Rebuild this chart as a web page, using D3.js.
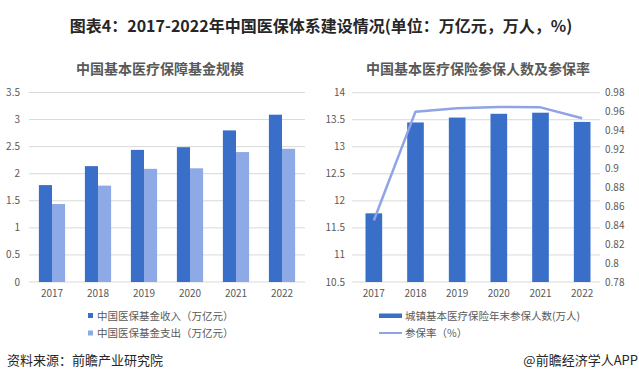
<!DOCTYPE html>
<html><head><meta charset="utf-8">
<script src="https://cdn.jsdelivr.net/npm/d3@7"></script>
<style>
body{margin:0;background:#fff;}
text{font-family:"Noto Sans CJK SC","Microsoft YaHei",sans-serif;}
</style></head>
<body><svg id="c" width="639" height="380"></svg>
<script>
const years = ["2017","2018","2019","2020","2021","2022"];
const fundIncome = [1.79, 2.14, 2.44, 2.49, 2.80, 3.09];
const fundExpense = [1.44, 1.78, 2.09, 2.10, 2.40, 2.46];
const insuredPeople = [11.77, 13.45, 13.54, 13.61, 13.63, 13.46];
const coverageRate = [0.845, 0.960, 0.9635, 0.965, 0.9645, 0.953];
const leftTicks = [0,0.5,1,1.5,2,2.5,3,3.5];
const rightLTicks = [10.5,11,11.5,12,12.5,13,13.5,14];
const rightRTicks = [0.78,0.8,0.82,0.84,0.86,0.88,0.9,0.92,0.94,0.96,0.98];

const svg = d3.select("#c");
const dark = "#3a6fc9", light = "#8eaae6", lineC = "#8fa3e6", grid = "#d9d9d9", txt = "#595959";

svg.append("text").attr("x",321).attr("y",32).attr("text-anchor","middle")
  .attr("font-size",16).attr("font-weight","bold").attr("fill","#262626")
  .text("图表4：2017-2022年中国医保体系建设情况(单位：万亿元，万人，%)");

// Left chart
const x0 = d3.scaleBand().domain(years).range([29,305]).paddingInner(0.43).paddingOuter(0.215);
const x1 = d3.scaleBand().domain(["inc","exp"]).range([0,x0.bandwidth()]);
const yL = d3.scaleLinear().domain([0,3.5]).range([282,92.5]);

svg.append("text").attr("x",160).attr("y",74).attr("text-anchor","middle")
  .attr("font-size",14).attr("font-weight","bold").attr("fill",txt).text("中国基本医疗保障基金规模");

const gL = svg.append("g");
gL.selectAll("line.g").data(leftTicks).join("line")
  .attr("x1",29).attr("x2",305).attr("y1",d=>yL(d)).attr("y2",d=>yL(d))
  .attr("stroke",grid).attr("stroke-width",1);
gL.selectAll("text.t").data(leftTicks).join("text")
  .attr("x",20).attr("y",d=>yL(d)+3.5).attr("text-anchor","end")
  .attr("font-size",10).attr("fill",txt).text(d=>d);
gL.selectAll("rect.inc").data(years).join("rect")
  .attr("x",d=>x0(d)+x1("inc")).attr("width",x1.bandwidth())
  .attr("y",(d,i)=>yL(fundIncome[i])).attr("height",(d,i)=>yL(0)-yL(fundIncome[i]))
  .attr("fill",dark);
gL.selectAll("rect.exp").data(years).join("rect")
  .attr("x",d=>x0(d)+x1("exp")).attr("width",x1.bandwidth())
  .attr("y",(d,i)=>yL(fundExpense[i])).attr("height",(d,i)=>yL(0)-yL(fundExpense[i]))
  .attr("fill",light);
gL.selectAll("text.y").data(years).join("text")
  .attr("x",d=>x0(d)+x0.bandwidth()/2).attr("y",297).attr("text-anchor","middle")
  .attr("font-size",10).attr("fill",txt).text(d=>d);

// left legend
svg.append("rect").attr("x",88).attr("y",313).attr("width",5).attr("height",5).attr("fill",dark);
svg.append("text").attr("x",97).attr("y",319.5).attr("font-size",10.5).attr("fill",txt).text("中国医保基金收入（万亿元）");
svg.append("rect").attr("x",88).attr("y",330.5).attr("width",5).attr("height",5).attr("fill",light);
svg.append("text").attr("x",97).attr("y",337).attr("font-size",10.5).attr("fill",txt).text("中国医保基金支出（万亿元）");

// Right chart
const xr = d3.scaleBand().domain(years).range([353,603]).paddingInner(0.6).paddingOuter(0.3);
const yR = d3.scaleLinear().domain([10.5,14]).range([282,92.7]);
const yR2 = d3.scaleLinear().domain([0.78,0.98]).range([282,92.7]);

svg.append("text").attr("x",478).attr("y",74).attr("text-anchor","middle")
  .attr("font-size",14).attr("font-weight","bold").attr("fill",txt).text("中国基本医疗保险参保人数及参保率");

const gR = svg.append("g");
gR.selectAll("line.g").data(rightLTicks).join("line")
  .attr("x1",352).attr("x2",600).attr("y1",d=>yR(d)).attr("y2",d=>yR(d))
  .attr("stroke",grid).attr("stroke-width",1);
gR.selectAll("text.tl").data(rightLTicks).join("text")
  .attr("x",345).attr("y",d=>yR(d)+3.5).attr("text-anchor","end")
  .attr("font-size",10).attr("fill",txt).text(d=>d);
gR.selectAll("text.tr").data(rightRTicks).join("text")
  .attr("x",605).attr("y",d=>yR2(d)+3.5).attr("text-anchor","start")
  .attr("font-size",10).attr("fill",txt).text(d=>d);
gR.selectAll("rect.b").data(years).join("rect")
  .attr("x",d=>xr(d)).attr("width",xr.bandwidth())
  .attr("y",(d,i)=>yR(insuredPeople[i])).attr("height",(d,i)=>yR(10.5)-yR(insuredPeople[i]))
  .attr("fill",dark);
const line = d3.line().x((d,i)=>xr(years[i])+xr.bandwidth()/2).y(d=>yR2(d));
gR.append("path").datum(coverageRate).attr("d",line).attr("fill","none")
  .attr("stroke",lineC).attr("stroke-width",2.5).attr("stroke-linejoin","round");
gR.selectAll("text.y").data(years).join("text")
  .attr("x",d=>xr(d)+xr.bandwidth()/2).attr("y",297).attr("text-anchor","middle")
  .attr("font-size",10).attr("fill",txt).text(d=>d);

// right legend
svg.append("rect").attr("x",379).attr("y",313.5).attr("width",23).attr("height",4.5).attr("fill",dark);
svg.append("text").attr("x",405).attr("y",319.5).attr("font-size",10.5).attr("fill",txt).text("城镇基本医疗保险年末参保人数(万人)");
svg.append("line").attr("x1",379).attr("x2",402).attr("y1",333).attr("y2",333).attr("stroke",lineC).attr("stroke-width",2);
svg.append("text").attr("x",405).attr("y",337).attr("font-size",10.5).attr("fill",txt).text("参保率（%）");

// footer
svg.append("text").attr("x",7).attr("y",365).attr("font-size",13).attr("fill","#262626").text("资料来源：前瞻产业研究院");
svg.append("text").attr("x",638).attr("y",365).attr("text-anchor","end").attr("font-size",13).attr("fill","#262626").text("@前瞻经济学人APP");
</script></body></html>
